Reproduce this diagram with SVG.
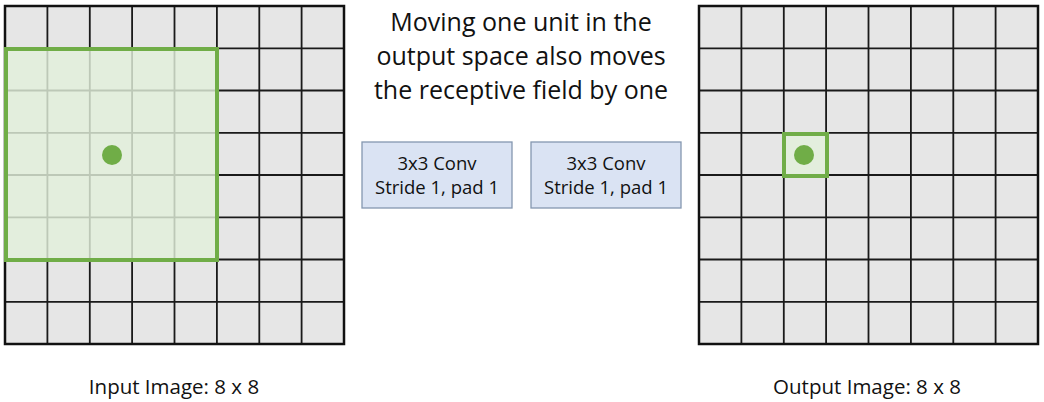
<svg xmlns="http://www.w3.org/2000/svg" width="1044" height="402" viewBox="0 0 1044 402">
<style>
.cell{fill:#e6e6e6}
.gl{stroke:#1a1a1a;stroke-width:1.8}
.frame{fill:none;stroke:#111;stroke-width:2.5}
.hl{fill:#e2efda;fill-opacity:0.82;stroke:#70ad47;stroke-width:4}
.dot{fill:#70ad47}
.box{fill:#dae3f3;stroke:#8497b0;stroke-width:1.3}
.t{font-family:"Open Sans","Liberation Sans",sans-serif;fill:#111;text-anchor:middle}
</style>
<defs>
<g id="grid">
<rect class="cell" x="0" y="0" width="339" height="338"/>
<path class="gl" d="M42.4 0V338M84.8 0V338M127.1 0V338M169.5 0V338M211.9 0V338M254.3 0V338M296.6 0V338M0 42.3H339M0 84.5H339M0 126.8H339M0 169H339M0 211.3H339M0 253.5H339M0 295.8H339"/>
<rect class="frame" x="0" y="0" width="339" height="338"/>
</g>
</defs>
<g id="input-image">
<use href="#grid" x="5" y="6"/>
<rect class="hl" x="6" y="49" width="211" height="211"/>
<circle class="dot" cx="112" cy="155" r="10"/>
<text class="t" x="174" y="394" font-size="20.5">Input Image: 8 x 8</text>
</g>
<g id="output-image">
<use href="#grid" x="699" y="6"/>
<rect class="hl" x="784" y="134" width="43" height="42"/>
<circle class="dot" cx="804" cy="155" r="10"/>
<text class="t" x="867" y="394" font-size="20.5">Output Image: 8 x 8</text>
</g>
<g id="caption">
<text class="t" x="521" y="31" font-size="25">Moving one unit in the</text>
<text class="t" x="521" y="65" font-size="25">output space also moves</text>
<text class="t" x="521" y="99" font-size="25">the receptive field by one</text>
</g>
<g id="conv1">
<rect class="box" x="362" y="142" width="150" height="66"/>
<text class="t" x="437" y="170" font-size="18.5">3x3 Conv</text>
<text class="t" x="437" y="194" font-size="18.5">Stride 1, pad 1</text>
</g>
<g id="conv2">
<rect class="box" x="531" y="142" width="150" height="66"/>
<text class="t" x="606" y="170" font-size="18.5">3x3 Conv</text>
<text class="t" x="606" y="194" font-size="18.5">Stride 1, pad 1</text>
</g>
<g id="connectors"/>
</svg>
